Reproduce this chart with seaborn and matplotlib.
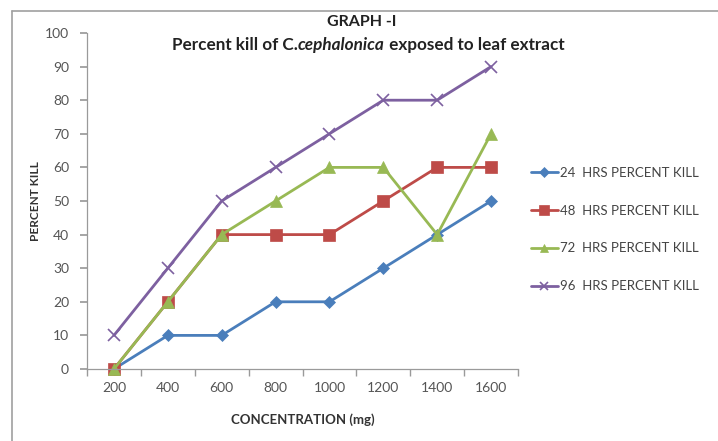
import matplotlib
matplotlib.use("Agg")
import matplotlib.pyplot as plt
import seaborn as sns
import pandas as pd

# Concentrations tested (mg) and percent kill after each exposure time
concentrations = ["200", "400", "600", "800", "1000", "1200", "1400", "1600"]
kill_24h = [0, 10, 10, 20, 20, 30, 40, 50]
kill_48h = [0, 20, 40, 40, 40, 50, 60, 60]
kill_72h = [0, 20, 40, 50, 60, 60, 40, 70]
kill_96h = [10, 30, 50, 60, 70, 80, 80, 90]
series_names = ["24  HRS PERCENT KILL", "48  HRS PERCENT KILL",
                "72  HRS PERCENT KILL", "96  HRS PERCENT KILL"]
y_ticks = [0, 10, 20, 30, 40, 50, 60, 70, 80, 90, 100]

sns.set_theme(style="white")
plt.rcParams["font.family"] = ["Lato", "DejaVu Sans"]

rows = []
for name, vals in zip(series_names, [kill_24h, kill_48h, kill_72h, kill_96h]):
    for i, v in enumerate(vals):
        rows.append({"pos": i, "kill": v, "series": name})
df = pd.DataFrame(rows)

colors = ["#4A7EBB", "#BE4B48", "#98B954", "#7D60A0"]
markers = ["D", "s", "^", "x"]
msizes = [6, 9, 8, 8]

fig = plt.figure(figsize=(7.18, 4.41), dpi=100)
ax = fig.add_axes([87 / 718, 1 - 369 / 441, (518 - 87) / 718, (369 - 33) / 441])

for name, c, m, ms in zip(series_names, colors, markers, msizes):
    sub = df[df["series"] == name]
    sns.lineplot(data=sub, x="pos", y="kill", ax=ax, color=c, marker=m,
                 markersize=ms, linewidth=2, label=name,
                 markeredgecolor=c, markeredgewidth=1.2 if m == "x" else 0.5,
                 clip_on=False)

ax.set_xlim(-0.5, len(concentrations) - 0.5)
ax.set_ylim(0, 100)
ax.set_yticks(y_ticks)
ax.set_xticks(range(len(concentrations)))
ax.set_xticklabels(concentrations)
# tick marks sit between categories on the x axis
ax.set_xticks([i - 0.5 for i in range(len(concentrations) + 1)], minor=True)
ax.tick_params(axis="x", which="major", length=0, pad=9, labelsize=10,
               labelcolor="#555555")
ax.tick_params(axis="x", which="minor", length=5, color="#9A9A9A",
               direction="out", bottom=True)
ax.tick_params(axis="y", length=5, color="#9A9A9A", direction="out", left=True,
               labelsize=10, labelcolor="#555555", pad=8)
for s in ["top", "right"]:
    ax.spines[s].set_visible(False)
for s in ["left", "bottom"]:
    ax.spines[s].set_color("#9A9A9A")
    ax.spines[s].set_linewidth(0.9)

ax.set_xlabel("CONCENTRATION (mg)", fontsize=9.5, fontweight="bold",
              color="#333333", labelpad=14)
ax.set_ylabel("PERCENT KILL", fontsize=8.5, fontweight="bold",
              color="#333333", labelpad=3)

leg = ax.legend(loc="center left", bbox_to_anchor=(1.0, 0.415), frameon=False,
                fontsize=9.5, handlelength=2.0, labelspacing=1.95,
                borderaxespad=0.6, handletextpad=0.2, markerscale=0.8)
for t in leg.get_texts():
    t.set_color("#444444")

# Titles
fig.text(362 / 718, 1 - 22 / 441, "GRAPH -I", ha="center", va="center",
         fontsize=11.5, fontweight="bold", color="#222222")
t1 = fig.text(172 / 718, 1 - 45 / 441, "Percent kill of C.", ha="left",
              va="center", fontsize=12.3, fontweight="bold", color="#222222")
a2 = ax.annotate("cephalonica", xy=(1, 0), xycoords=t1, va="bottom",
                 fontsize=12.3, fontweight="bold", fontstyle="italic",
                 color="#222222", annotation_clip=False)
ax.annotate(" exposed to leaf extract", xy=(1, 0), xycoords=a2, va="bottom",
            fontsize=12.3, fontweight="bold", color="#222222",
            annotation_clip=False)

# Chart frame
fig.add_artist(plt.Line2D([12 / 718, 12 / 718], [0, 1 - 11 / 441],
                          transform=fig.transFigure, color="#A0A0A0", lw=1.2))
fig.add_artist(plt.Line2D([12 / 718, 1], [1 - 11 / 441, 1 - 11 / 441],
                          transform=fig.transFigure, color="#A0A0A0", lw=1.2))

fig.savefig("out.png", dpi=100)
